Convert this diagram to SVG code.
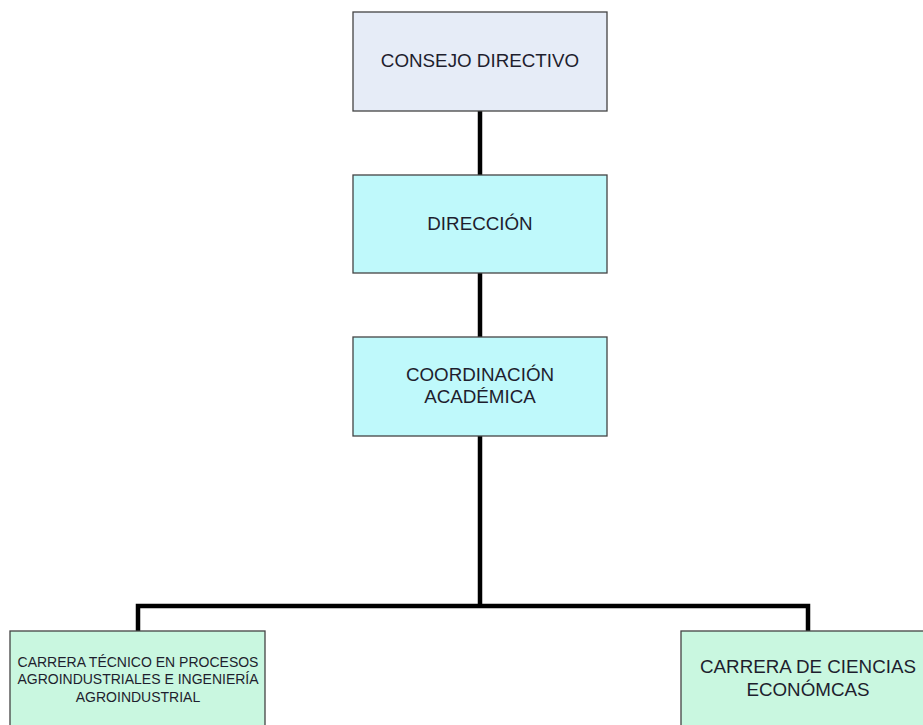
<svg xmlns="http://www.w3.org/2000/svg" width="923" height="725" viewBox="0 0 923 725">
<style>
.box{stroke:#444;stroke-width:1.3}
.t{font-family:"Liberation Sans",Arial,sans-serif;fill:#1e1e2e;text-anchor:middle}
.big{font-size:18.8px}
.c{stroke:#000;stroke-width:4.5;fill:none}
</style>
<rect width="923" height="725" fill="#fff"/>
<g id="connectors">
<line class="c" x1="480" y1="111" x2="480" y2="175"/>
<line class="c" x1="480" y1="273" x2="480" y2="337"/>
<line class="c" x1="480" y1="436" x2="480" y2="606"/>
<polyline class="c" points="138,631 138,606 808,606 808,631"/>
</g>
<g id="consejo">
<rect class="box" x="353" y="12" width="254" height="99" fill="#e6ecf7"/>
<text class="t big" x="480" y="67">CONSEJO DIRECTIVO</text>
</g>
<g id="direccion">
<rect class="box" x="353" y="175" width="254" height="98" fill="#bff9fb"/>
<text class="t big" x="480" y="230">DIRECCIÓN</text>
</g>
<g id="coordinacion">
<rect class="box" x="353" y="337" width="254" height="99" fill="#bff9fb"/>
<text class="t big" x="480" y="381">COORDINACIÓN</text>
<text class="t big" x="480" y="403">ACADÉMICA</text>
</g>
<g id="carrera-agro">
<rect class="box" x="10" y="631" width="255" height="100" fill="#c9f7e0"/>
<text class="t" x="138" y="667" font-size="14">CARRERA TÉCNICO EN PROCESOS</text>
<text class="t" x="138" y="684" font-size="14">AGROINDUSTRIALES E INGENIERÍA</text>
<text class="t" x="138" y="702" font-size="14">AGROINDUSTRIAL</text>
</g>
<g id="carrera-eco">
<rect class="box" x="681" y="631" width="255" height="100" fill="#c9f7e0"/>
<text class="t big" x="808" y="673">CARRERA DE CIENCIAS</text>
<text class="t big" x="808" y="696">ECONÓMCAS</text>
</g>
</svg>
